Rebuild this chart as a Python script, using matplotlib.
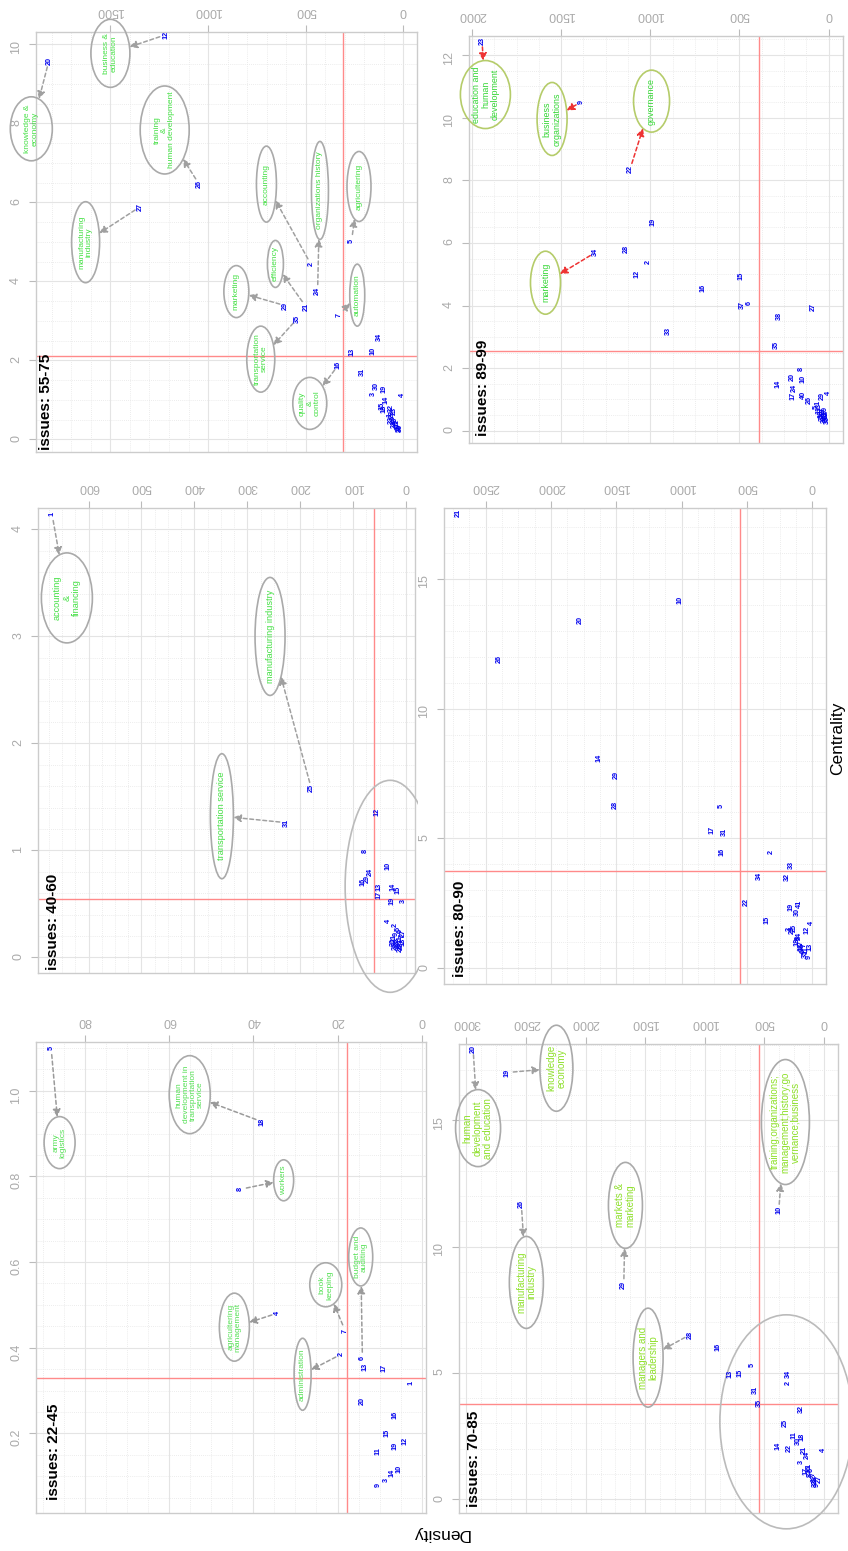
import matplotlib
matplotlib.use("Agg")
import matplotlib.pyplot as plt
from matplotlib.patches import Ellipse, Rectangle
from matplotlib.ticker import MultipleLocator, FixedLocator, FormatStrFormatter

plt.rcParams["font.family"] = ["Liberation Sans", "DejaVu Sans"]

W, H = 848, 1551

# ---------------- issues 22-45 ----------------
ids_22_45 = [5, 18, 8, 4, 7, 2, 6, 13, 17, 1, 20, 16, 15, 11, 19, 12, 10, 14, 3, 9]
density_22_45 = [88.0, 38.0, 43.1, 34.2, 18.2, 19.1, 14.1, 13.6, 8.9, 2.5,
                 14.1, 6.3, 8.3, 10.3, 6.3, 4.1, 5.3, 7.1, 8.3, 10.3]
centrality_22_45 = [1.099, 0.928, 0.770, 0.481, 0.440, 0.385, 0.375, 0.356, 0.352, 0.317,
                    0.275, 0.242, 0.200, 0.158, 0.171, 0.182, 0.118, 0.108, 0.091, 0.079]
cut_22_45 = (17.8, 0.33)

# ---------------- issues 40-60 ----------------
ids_40_60 = [1, 25, 31, 12, 8, 10, 16, 29, 24, 13, 17, 14, 15, 19, 3, 4,
             2, 5, 6, 7, 9, 11, 18, 20, 21, 22, 23, 26, 27, 28, 30]
density_40_60 = [669, 179, 227, 54, 77, 35, 82, 73, 68, 51, 51, 24, 15, 27, 5, 33,
                 20, 15, 10, 8, 18, 12, 6, 14, 22, 9, 17, 20, 5, 11, 24]
centrality_40_60 = [4.14, 1.58, 1.26, 1.36, 1.00, 0.86, 0.71, 0.73, 0.80, 0.66, 0.58, 0.66, 0.63, 0.53, 0.53, 0.34,
                    0.30, 0.27, 0.25, 0.20, 0.22, 0.17, 0.15, 0.13, 0.18, 0.11, 0.15, 0.11, 0.23, 0.09, 0.14]
cut_40_60 = (60, 0.544)

# ---------------- issues 55-75 ----------------
ids_55_75 = [12, 20, 26, 27, 2, 24, 21, 29, 35, 5, 7, 34, 13, 10, 16, 31, 30, 19, 3, 4, 14, 18,
             15, 32, 22, 23, 1, 6, 8, 9, 11, 17, 25, 28, 33, 36]
density_55_75 = [1217, 1815, 1046, 1347, 473, 439, 499, 602, 542, 265, 328, 124, 264, 153, 333, 208,
                 136, 97, 153, 5, 90, 97,
                 110, 60, 55, 45, 70, 50, 40, 35, 30, 25, 20, 45, 60, 15]
centrality_55_75 = [10.24, 9.58, 6.46, 5.89, 4.43, 3.76, 3.36, 3.38, 3.06, 5.03, 3.15, 2.60, 2.22, 2.24, 1.88, 1.70,
                    1.35, 1.27, 1.14, 1.12, 1.01, 0.76,
                    0.85, 0.80, 0.65, 0.72, 0.62, 0.55, 0.50, 0.45, 0.40, 0.35, 0.30, 0.38, 0.50, 0.28]
cut_55_75 = (308, 2.11)

# ---------------- issues 70-85 ----------------
ids_70_85 = [20, 19, 26, 29, 10, 28, 16, 13, 15, 5, 34, 2, 31, 35, 32, 25, 11, 18, 30, 14, 22, 21, 24, 4, 3, 17,
             1, 6, 7, 8, 9, 12, 23, 27, 33, 36]
density_70_85 = [2944, 2659, 2539, 1680, 380, 1121, 889, 791, 701, 604, 302, 302, 575, 545, 190, 324, 254, 181, 215,
                 386, 288, 162, 143, 3, 190, 154,
                 130, 110, 95, 115, 60, 85, 70, 40, 75, 125]
centrality_70_85 = [17.84, 16.89, 11.67, 8.48, 11.43, 6.52, 6.04, 4.94, 5.01, 5.31, 4.94, 4.59, 4.32, 3.79, 3.56, 3.00,
                    2.54, 2.45, 2.30, 2.10, 2.01, 1.94, 1.74, 1.94, 1.48, 1.11,
                    1.30, 1.15, 1.00, 0.95, 0.55, 0.85, 0.75, 0.80, 0.62, 1.20]
cut_70_85 = (545, 3.76)

# ---------------- issues 80-90 ----------------
ids_80_90 = [21, 10, 20, 26, 14, 29, 28, 5, 17, 31, 16, 2, 33, 34, 32, 22, 15, 19, 41, 30, 4, 12,
             23, 25, 3, 18, 8, 27, 13, 7, 1, 6, 11, 9, 24, 35, 36]
density_80_90 = [2712, 1014, 1780, 2393, 1635, 1504, 1507, 695, 771, 674, 690, 311, 158, 409, 192, 508, 345, 163,
                 102, 112, 10, 43,
                 150, 135, 176, 119, 105, 85, 18, 60, 90, 70, 45, 23, 100, 50, 75]
centrality_80_90 = [17.53, 14.18, 13.40, 11.90, 8.09, 7.43, 6.29, 6.26, 5.32, 5.25, 4.47, 4.46, 3.97, 3.56, 3.52,
                    2.54, 1.85, 2.36, 2.49, 2.17, 1.75, 1.49,
                    1.46, 1.55, 1.49, 1.01, 1.15, 0.95, 0.82, 0.90, 0.75, 0.65, 0.70, 0.44, 1.25, 0.55, 0.80]
cut_80_90 = (554, 3.75)

# ---------------- issues 89-99 ----------------
ids_89_99 = [23, 9, 22, 19, 34, 28, 2, 12, 15, 16, 37, 6, 33, 27, 38, 35, 14, 20, 8, 10, 24, 17, 40, 26, 29, 4,
             1, 3, 5, 7, 11, 13, 18, 21, 25, 30, 31, 32, 36, 39]
density_89_99 = [1944, 1386, 1114, 983, 1307, 1133, 1011, 1077, 493, 702, 483, 446, 899, 84, 277, 294, 281, 206,
                 155, 146, 191, 202, 140, 107, 37, 0,
                 60, 50, 70, 40, 55, 30, 45, 20, 35, 15, 25, 10, 5, 20]
centrality_89_99 = [12.46, 10.51, 8.35, 6.68, 5.70, 5.81, 5.38, 5.00, 4.96, 4.55, 4.02, 4.07, 3.19, 3.95, 3.68,
                    2.74, 1.49, 1.73, 1.97, 1.65, 1.36, 1.12, 1.15, 0.99, 1.12, 1.22,
                    0.90, 0.80, 0.75, 0.70, 0.65, 0.60, 0.55, 0.50, 0.45, 0.42, 0.38, 0.55, 0.35, 0.65]
cut_89_99 = (388, 2.55)

# Cluster notes: (label, issue id the arrow starts from, centre density, centre centrality, width px, height px)
notes_22_45 = [
    ("army\nlogistics", 5, 86.0, 0.879, 31, 52),
    ("human\ndevelopment in\ntransportation\nservice", 18, 55.1, 0.991, 41, 78),
    ("workers", 8, 32.8, 0.791, 20, 41),
    ("budget and\nauditing", 6, 14.5, 0.612, 24, 58),
    ("book\nkeeping", 7, 22.8, 0.547, 32, 44),
    ("agricultering\nmanagement", 4, 44.5, 0.448, 30, 68),
    ("administration", 2, 28.3, 0.338, 17, 72),
]
notes_40_60 = [
    ("accounting\n&\nfinancing", 1, 641, 3.36, 51, 90),
    ("manufacturing industry", 25, 257, 3.0, 30, 118),
    ("transportation service", 31, 348, 1.32, 23, 125),
]
notes_55_75 = [
    ("business &\neducation", 12, 1500, 9.77, 39, 68),
    ("knowledge &\neconomy", 20, 1905, 7.86, 42, 64),
    ("training\n&\nhuman development", 26, 1222, 7.83, 49, 88),
    ("manufacturing\nindustry", 27, 1627, 4.99, 28, 81),
    ("accounting", 2, 701, 6.46, 20, 76),
    ("organizations history", 24, 427, 6.30, 17, 98),
    ("agricultering", 5, 227, 6.40, 24, 70),
    ("efficiency", 21, 655, 4.44, 16, 47),
    ("marketing", 29, 855, 3.74, 25, 52),
    ("automation", 7, 236, 3.65, 15, 62),
    ("transportation\nservice", 35, 730, 2.03, 28, 66),
    ("quality\n&\ncontrol", 16, 479, 0.91, 34, 52),
]
notes_70_85 = [
    ("human\ndevelopment\nand education", 20, 2902, 14.69, 45, 77),
    ("knowledge\neconomy", 19, 2245, 17.06, 33, 86),
    ("manufacturing\nindustry", 26, 2497, 8.58, 34, 92),
    ("markets &\nmarketing", 29, 1666, 11.63, 34, 86),
    ("managers and\nleadership", 28, 1476, 5.60, 30, 99),
    ("training;organizations;\nmanagement;history;go\nvernance;business", 10, 324, 14.93, 48, 125),
]
notes_89_99 = [
    ("education and\nhuman\ndevelopment", 23, 1925, 10.74, 50, 68),
    ("business\norganizations", 9, 1551, 9.96, 30, 73),
    ("governance", 22, 993, 10.53, 36, 62),
    ("marketing", 34, 1588, 4.73, 30, 63),
]

GREY_E = "#aaaaaa"
panels = [
    dict(title="issues: 22-45", ids=ids_22_45, dens=density_22_45, cent=centrality_22_45, cut=cut_22_45,
         box=(36, 1042, 426, 1513), xlim=(91.6, -1.0), ylim=(0.014, 1.114),
         xticks=[0, 20, 40, 60, 80], yticks=[0.2, 0.4, 0.6, 0.8, 1.0], yfmt="%.1f",
         xminor=5, yminor=0.05, tdx=18, tdy=13, fs=6.0, tcol="#55e055", ecol=GREY_E, acol="#9a9a9a",
         notes=notes_22_45, big=None),
    dict(title="issues: 40-60", ids=ids_40_60, dens=density_40_60, cent=centrality_40_60, cut=cut_40_60,
         box=(38, 508, 415, 973), xlim=(695.6, -17), ylim=(-0.145, 4.20),
         xticks=[0, 100, 200, 300, 400, 500, 600], yticks=[0, 1, 2, 3, 4], yfmt="%d",
         xminor=25, yminor=0.2, tdx=15, tdy=3, fs=6.6, tcol="#44e044", ecol=GREY_E, acol="#a0a0a0",
         notes=notes_40_60, big=(30, 0.665, 90, 212, (0, 470, 418, 1000))),
    dict(title="issues: 55-75", ids=ids_55_75, dens=density_55_75, cent=centrality_55_75, cut=cut_55_75,
         box=(36, 32, 417, 452), xlim=(1881, -70), ylim=(-0.32, 10.31),
         xticks=[0, 500, 1000, 1500], yticks=[0, 2, 4, 6, 8, 10], yfmt="%d",
         xminor=100, yminor=0.5, tdx=10.5, tdy=2, fs=6.0, tcol="#44e044", ecol=GREY_E, acol="#a0a0a0",
         notes=notes_55_75, big=None),
    dict(title="issues: 70-85", ids=ids_70_85, dens=density_70_85, cent=centrality_70_85, cut=cut_70_85,
         box=(459, 1044, 838, 1513), xlim=(3062, -117), ylim=(-0.55, 18.02),
         xticks=[0, 500, 1000, 1500, 2000, 2500, 3000], yticks=[0, 5, 10, 15], yfmt="%d",
         xminor=125, yminor=1.0, tdx=15, tdy=6, fs=7.0, tcol="#8ee02a", ecol=GREY_E, acol="#a0a0a0",
         notes=notes_70_85, big=(316, 3.06, 133, 214, None)),
    dict(title="issues: 80-90", ids=ids_80_90, dens=density_80_90, cent=centrality_80_90, cut=cut_80_90,
         box=(444, 508, 826, 984), xlim=(2820, -105), ylim=(-0.61, 17.73),
         xticks=[0, 500, 1000, 1500, 2000, 2500], yticks=[0, 5, 10, 15], yfmt="%d",
         xminor=125, yminor=1.0, tdx=15.5, tdy=7, fs=6.4, tcol="#44e044", ecol=GREY_E, acol="#a0a0a0",
         notes=[], big=None),
    dict(title="issues: 89-99", ids=ids_89_99, dens=density_89_99, cent=centrality_89_99, cut=cut_89_99,
         box=(469, 36, 843, 443), xlim=(2017, -81), ylim=(-0.39, 12.61),
         xticks=[0, 500, 1000, 1500, 2000], yticks=[0, 2, 4, 6, 8, 10, 12], yfmt="%d",
         xminor=125, yminor=0.5, tdx=14, tdy=7, fs=6.4, tcol="#33d633", ecol="#b5cc6a", acol="#ee3333",
         notes=notes_89_99, big=None),
]

fig = plt.figure(figsize=(W / 100, H / 100), dpi=100)
fig.patch.set_facecolor("white")


def draw_panel(p):
    x0, y0, x1, y1 = p["box"]
    wpx, hpx = x1 - x0, y1 - y0
    ax = fig.add_axes([x0 / W, 1 - y1 / H, wpx / W, hpx / H])
    ax.set_xlim(*p["xlim"])
    ax.set_ylim(*p["ylim"])
    sx = wpx / abs(p["xlim"][1] - p["xlim"][0])   # px per density unit
    sy = hpx / abs(p["ylim"][1] - p["ylim"][0])   # px per centrality unit

    # axes frame, ticks and grid
    for s in ax.spines.values():
        s.set_color("#cccccc")
        s.set_linewidth(1.0)
    ax.xaxis.set_major_locator(FixedLocator(p["xticks"]))
    ax.yaxis.set_major_locator(FixedLocator(p["yticks"]))
    ax.yaxis.set_major_formatter(FormatStrFormatter(p["yfmt"]))
    ax.xaxis.set_minor_locator(MultipleLocator(p["xminor"]))
    ax.yaxis.set_minor_locator(MultipleLocator(p["yminor"]))
    ax.xaxis.tick_top()
    ax.tick_params(axis="x", which="major", top=True, bottom=False, labeltop=True, labelbottom=False,
                   labelrotation=180, length=5, width=0.8, color="#bbbbbb", labelcolor="#aaaaaa",
                   labelsize=9, pad=6)
    ax.tick_params(axis="y", which="major", left=True, right=False, labelrotation=90, length=5, width=0.8,
                   color="#bbbbbb", labelcolor="#aaaaaa", labelsize=9, pad=5)
    ax.tick_params(which="minor", length=0)
    ax.grid(True, which="major", color="#e4e4e4", lw=0.8, ls="-")
    ax.grid(True, which="minor", color="#e6e6e6", lw=0.6, ls=(0, (1, 1.5)))
    ax.set_axisbelow(True)

    # threshold lines
    cd, cc = p["cut"]
    ax.axvline(cd, color="#ff8a8a", lw=1.0, zorder=2)
    ax.axhline(cc, color="#ff8a8a", lw=1.0, zorder=2)

    # issue numbers
    pos = {}
    for i, d, c in zip(p["ids"], p["dens"], p["cent"]):
        pos[i] = (d, c)
        ax.text(d, c, str(i), rotation=90, ha="center", va="center", color="#0000ee",
                fontsize=5.2, fontweight="bold", zorder=4)

    # cluster notes with arrows
    for text, src, cx, cy, ew, eh in p["notes"]:
        ax.add_patch(Ellipse((cx, cy), ew / sx, eh / sy, fill=False, ec=p["ecol"], lw=1.2, zorder=3,
                             clip_on=False))
        ax.text(cx, cy, text, rotation=90, ha="center", va="center", ma="center", color=p["tcol"],
                fontsize=p["fs"], linespacing=1.05, zorder=4, clip_on=False)
        px_, py_ = pos[src]
        dx, dy = (px_ - cx) * sx, (py_ - cy) * sy
        k = 1.0 / ((dx / (ew / 2)) ** 2 + (dy / (eh / 2)) ** 2) ** 0.5
        tip = (cx + k * (px_ - cx), cy + k * (py_ - cy))
        ax.annotate("", xy=tip, xytext=(px_, py_),
                    arrowprops=dict(arrowstyle="-|>,head_length=0.55,head_width=0.28", color=p["acol"],
                                    lw=1.1, ls=(0, (2.5, 1.8)), shrinkA=4.5, shrinkB=0, mutation_scale=8),
                    zorder=3, annotation_clip=False)

    # large ring around the dense group
    if p["big"] is not None:
        bx, by, bw, bh, clip = p["big"]
        e = Ellipse((bx, by), bw / sx, bh / sy, fill=False, ec="#bbbbbb", lw=1.2, zorder=3)
        ax.add_patch(e)
        if clip is None:
            e.set_clip_on(False)
        else:
            cx0, cy0, cx1, cy1 = clip
            r = Rectangle((cx0 / W, 1 - cy1 / H), (cx1 - cx0) / W, (cy1 - cy0) / H,
                          transform=fig.transFigure, visible=False)
            fig.add_artist(r)
            e.set_clip_path(r)

    # panel title
    ax.text(p["tdx"] / wpx, p["tdy"] / hpx, p["title"], transform=ax.transAxes, rotation=90,
            ha="center", va="bottom", fontsize=11, fontweight="bold", color="black", zorder=5)
    return ax


for p in panels:
    draw_panel(p)

fig.text(441 / W, 1 - 1533 / H, "Density", rotation=180, ha="center", va="center", fontsize=12.5)
fig.text(838 / W, 1 - 738 / H, "Centrality", rotation=90, ha="center", va="center", fontsize=12.5,
         bbox=dict(facecolor="white", edgecolor="none", pad=1.5))

fig.savefig("out.png", dpi=100, facecolor="white")
